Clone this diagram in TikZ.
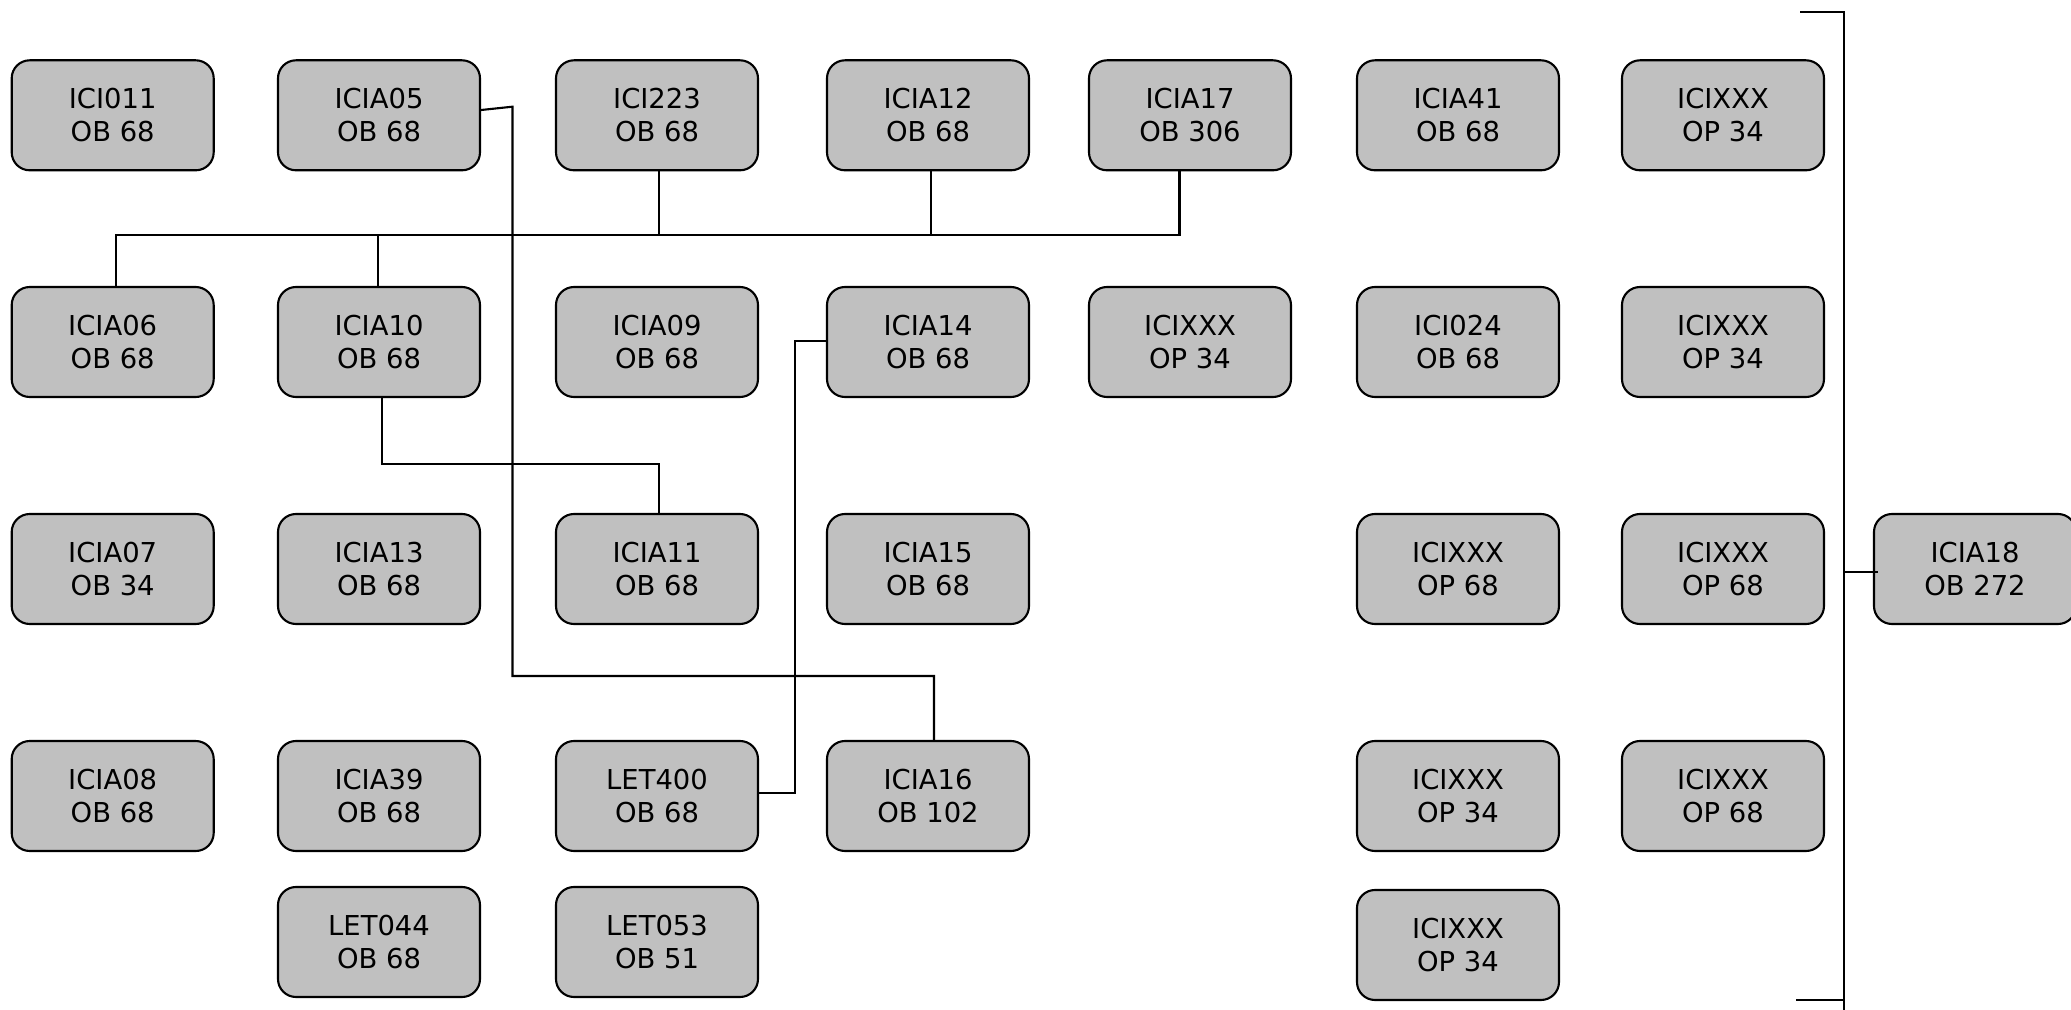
\documentclass[tikz,border=0pt]{standalone}
\usepackage{fontspec}
\setmainfont{DejaVu Sans}
\usepackage{xcolor}
\definecolor{UnitGray}{RGB}{192,192,192}
\usetikzlibrary{positioning}

\begin{document}
\begin{tikzpicture}[
  unit/.style={rectangle, rounded corners=0.18cm, draw=black, fill=UnitGray, line width=0.6pt, minimum width=2.02cm, minimum height=1.10cm, inner sep=0pt, font=\fontsize{7.8}{9.4}\selectfont, align=center},
  link/.style={line width=0.6pt, black}
]
\useasboundingbox (0,0) rectangle (20.71,10.09);

% row 1
\node[unit] (i011) at (1.127,8.937) {ICI011\\OB 68};
\node[unit] (a05) at (3.79,8.937) {ICIA05\\OB 68};
\node[unit] (i223) at (6.57,8.937) {ICI223\\OB 68};
\node[unit] (a12) at (9.28,8.937) {ICIA12\\OB 68};
\node[unit] (a17) at (11.90,8.937) {ICIA17\\OB 306};
\node[unit] (a41) at (14.58,8.937) {ICIA41\\OB 68};
\node[unit] (x1) at (17.23,8.937) {ICIXXX\\OP 34};

% row 2
\node[unit] (a06) at (1.127,6.67) {ICIA06\\OB 68};
\node[unit] (a10) at (3.79,6.67) {ICIA10\\OB 68};
\node[unit] (a09) at (6.57,6.67) {ICIA09\\OB 68};
\node[unit] (a14) at (9.28,6.67) {ICIA14\\OB 68};
\node[unit] (x2) at (11.90,6.67) {ICIXXX\\OP 34};
\node[unit] (i024) at (14.58,6.67) {ICI024\\OB 68};
\node[unit] (x3) at (17.23,6.67) {ICIXXX\\OP 34};

% row 3
\node[unit] (a07) at (1.127,4.40) {ICIA07\\OB 34};
\node[unit] (a13) at (3.79,4.40) {ICIA13\\OB 68};
\node[unit] (a11) at (6.57,4.40) {ICIA11\\OB 68};
\node[unit] (a15) at (9.28,4.40) {ICIA15\\OB 68};
\node[unit] (x4) at (14.58,4.40) {ICIXXX\\OP 68};
\node[unit] (x5) at (17.23,4.40) {ICIXXX\\OP 68};
\node[unit] (a18) at (19.75,4.40) {ICIA18\\OB 272};

% row 4
\node[unit] (a08) at (1.127,2.13) {ICIA08\\OB 68};
\node[unit] (a39) at (3.79,2.13) {ICIA39\\OB 68};
\node[unit] (l400) at (6.57,2.13) {LET400\\OB 68};
\node[unit] (a16) at (9.28,2.13) {ICIA16\\OB 102};
\node[unit] (x6) at (14.58,2.13) {ICIXXX\\OP 34};
\node[unit] (x7) at (17.23,2.13) {ICIXXX\\OP 68};

% row 5
\node[unit] (l044) at (3.79,0.67) {LET044\\OB 68};
\node[unit] (l053) at (6.57,0.67) {LET053\\OB 51};
\node[unit] (x8) at (14.58,0.64) {ICIXXX\\OP 34};

% bus under row 1
\coordinate (busL) at (1.16,7.74);
\coordinate (busR) at (11.795,7.74);
\draw[link] (busL |- a06.north) -- (busL) -- (busR) -- (busR |- a17.south);
\draw[link] ([xshift=0.02cm]i223.south) -- ([xshift=0.02cm]i223.south |- busL);
\draw[link] ([xshift=0.03cm]a12.south) -- ([xshift=0.03cm]a12.south |- busL);
\draw[link] ([xshift=-0.01cm]a10.north) -- ([xshift=-0.01cm]a10.north |- busL);

% other links
\draw[link] ([xshift=0.03cm]a10.south) -- ++(0,-0.657) -| ([xshift=0.02cm]a11.north);
\draw[link] ([yshift=0.053cm]a05.east) -- (5.125,9.023) -- (5.125,3.33) -| ([xshift=0.06cm]a16.north);
\draw[link] ([yshift=0.033cm]l400.east) -- ++(0.36,0) |- ([yshift=0.013cm]a14.west);

% bracket
\coordinate (brT) at (18.44,9.97);
\coordinate (brB) at (18.44,-0.1);
\draw[link, line width=0.7pt] (18.00,9.97) -- (brT) -- (brB);
\draw[link, line width=0.7pt] (17.96,0.09) -- (18.44,0.09);
\draw[link] ([yshift=-0.03cm]a18.west -| brT) -- ([xshift=0.05cm,yshift=-0.03cm]a18.west);
\end{tikzpicture}
\end{document}
